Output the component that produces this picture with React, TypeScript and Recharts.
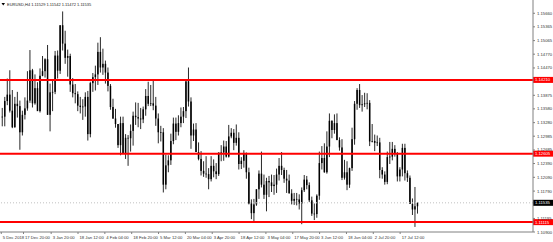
import { ComposedChart, Bar, XAxis, YAxis, ReferenceLine } from "recharts";

// EURUSD, one candle per trading day (broker time)
const days = [
  "2018-12-05", "2018-12-06", "2018-12-07", "2018-12-10", "2018-12-11", "2018-12-12", "2018-12-13", "2018-12-14",
  "2018-12-17", "2018-12-18", "2018-12-19", "2018-12-20", "2018-12-21", "2018-12-24", "2018-12-26", "2018-12-27",
  "2018-12-28", "2018-12-31", "2019-01-02", "2019-01-03", "2019-01-04", "2019-01-07", "2019-01-08", "2019-01-09",
  "2019-01-10", "2019-01-11", "2019-01-14", "2019-01-15", "2019-01-16", "2019-01-17", "2019-01-18", "2019-01-21",
  "2019-01-22", "2019-01-23", "2019-01-24", "2019-01-25", "2019-01-28", "2019-01-29", "2019-01-30", "2019-01-31",
  "2019-02-01", "2019-02-04", "2019-02-05", "2019-02-06", "2019-02-07", "2019-02-08", "2019-02-11", "2019-02-12",
  "2019-02-13", "2019-02-14", "2019-02-15", "2019-02-18", "2019-02-19", "2019-02-20", "2019-02-21", "2019-02-22",
  "2019-02-25", "2019-02-26", "2019-02-27", "2019-02-28", "2019-03-01", "2019-03-04", "2019-03-05", "2019-03-06",
  "2019-03-07", "2019-03-08", "2019-03-11", "2019-03-12", "2019-03-13", "2019-03-14", "2019-03-15", "2019-03-18",
  "2019-03-19", "2019-03-20", "2019-03-21", "2019-03-22", "2019-03-25", "2019-03-26", "2019-03-27", "2019-03-28",
  "2019-03-29", "2019-04-01", "2019-04-02", "2019-04-03", "2019-04-04", "2019-04-05", "2019-04-08", "2019-04-09",
  "2019-04-10", "2019-04-11", "2019-04-12", "2019-04-15", "2019-04-16", "2019-04-17", "2019-04-18", "2019-04-19",
  "2019-04-22", "2019-04-23", "2019-04-24", "2019-04-25", "2019-04-26", "2019-04-29", "2019-04-30", "2019-05-01",
  "2019-05-02", "2019-05-03", "2019-05-06", "2019-05-07", "2019-05-08", "2019-05-09", "2019-05-10", "2019-05-13",
  "2019-05-14", "2019-05-15", "2019-05-16", "2019-05-17", "2019-05-20", "2019-05-21", "2019-05-22", "2019-05-23",
  "2019-05-24", "2019-05-27", "2019-05-28", "2019-05-29", "2019-05-30", "2019-05-31", "2019-06-03", "2019-06-04",
  "2019-06-05", "2019-06-06", "2019-06-07", "2019-06-10", "2019-06-11", "2019-06-12", "2019-06-13", "2019-06-14",
  "2019-06-17", "2019-06-18", "2019-06-19", "2019-06-20", "2019-06-21", "2019-06-24", "2019-06-25", "2019-06-26",
  "2019-06-27", "2019-06-28", "2019-07-01", "2019-07-02", "2019-07-03", "2019-07-04", "2019-07-05", "2019-07-08",
  "2019-07-09", "2019-07-10", "2019-07-11", "2019-07-12", "2019-07-15", "2019-07-16", "2019-07-17", "2019-07-18",
  "2019-07-19", "2019-07-22", "2019-07-23", "2019-07-24", "2019-07-25", "2019-07-26",
];

const opens = [
  1.1341, 1.1341, 1.1375, 1.1389, 1.1354, 1.1318, 1.1369, 1.1364, 1.1307, 1.1345, 1.1359, 1.1376, 1.1442, 1.137, 1.1403, 1.1353,
  1.143, 1.144, 1.1466, 1.1345, 1.1394, 1.1395, 1.1474, 1.1441, 1.154, 1.15, 1.1469, 1.1473, 1.1411, 1.1392, 1.139, 1.1365,
  1.1362, 1.1363, 1.1384, 1.1303, 1.1414, 1.1427, 1.1433, 1.1482, 1.1448, 1.1456, 1.1437, 1.1408, 1.1362, 1.1337, 1.1325, 1.1279,
  1.1327, 1.1261, 1.1295, 1.1294, 1.131, 1.1343, 1.134, 1.1337, 1.1335, 1.1357, 1.1386, 1.1369, 1.137, 1.1365, 1.1337, 1.1307,
  1.1307, 1.1193, 1.1235, 1.1246, 1.1288, 1.1326, 1.1308, 1.1327, 1.1341, 1.1353, 1.1418, 1.1374, 1.13, 1.1313, 1.1264, 1.1249,
  1.1223, 1.1217, 1.1216, 1.1205, 1.1234, 1.1222, 1.1216, 1.1263, 1.1263, 1.1276, 1.1254, 1.1298, 1.1306, 1.1284, 1.1295, 1.1238,
  1.1245, 1.126, 1.122, 1.1152, 1.1131, 1.115, 1.1183, 1.1217, 1.1193, 1.1171, 1.1201, 1.1198, 1.119, 1.1193, 1.1215, 1.1234,
  1.1225, 1.1206, 1.1202, 1.1174, 1.1158, 1.1162, 1.1161, 1.1152, 1.1181, 1.1204, 1.1192, 1.1159, 1.113, 1.1129, 1.1169, 1.124,
  1.1251, 1.122, 1.1276, 1.1332, 1.1312, 1.1327, 1.129, 1.1274, 1.1208, 1.122, 1.1193, 1.1229, 1.1292, 1.1369, 1.1399, 1.1366,
  1.1368, 1.137, 1.1371, 1.1287, 1.1288, 1.1284, 1.1285, 1.1225, 1.1215, 1.1199, 1.1253, 1.1254, 1.1271, 1.126, 1.1211, 1.1226,
  1.1273, 1.1218, 1.1208, 1.1151, 1.1139, 1.1146,
];

const highs = [
  1.136, 1.1384, 1.1424, 1.1442, 1.1399, 1.1384, 1.1395, 1.1376, 1.1354, 1.1383, 1.144, 1.1486, 1.1445, 1.1433, 1.1416, 1.1446,
  1.1473, 1.1468, 1.1497, 1.1413, 1.1419, 1.1484, 1.1485, 1.154, 1.157, 1.1528, 1.1487, 1.1478, 1.1425, 1.1412, 1.1396, 1.1384,
  1.1379, 1.1394, 1.1397, 1.1417, 1.1436, 1.1452, 1.1502, 1.1514, 1.1489, 1.1463, 1.1448, 1.1412, 1.138, 1.1358, 1.1325, 1.1341,
  1.1341, 1.1303, 1.1301, 1.1324, 1.1352, 1.1372, 1.1371, 1.136, 1.1363, 1.1401, 1.1417, 1.141, 1.142, 1.1384, 1.1348, 1.1321,
  1.1316, 1.1258, 1.1257, 1.1304, 1.1339, 1.1339, 1.1344, 1.1361, 1.1362, 1.1418, 1.1448, 1.1383, 1.1326, 1.1327, 1.1285, 1.1266,
  1.1244, 1.1255, 1.1229, 1.1255, 1.1248, 1.124, 1.1263, 1.1279, 1.1289, 1.1288, 1.1323, 1.1316, 1.1314, 1.1324, 1.1307, 1.1253,
  1.1268, 1.1263, 1.123, 1.1161, 1.1162, 1.1183, 1.1224, 1.1265, 1.1215, 1.1208, 1.1212, 1.1215, 1.1214, 1.1228, 1.1251, 1.1264,
  1.123, 1.1225, 1.1215, 1.1183, 1.1175, 1.1175, 1.1172, 1.1187, 1.1214, 1.1212, 1.1198, 1.1167, 1.1152, 1.1172, 1.1265, 1.1277,
  1.1283, 1.1309, 1.1348, 1.1333, 1.1346, 1.1348, 1.1296, 1.1292, 1.1247, 1.1244, 1.123, 1.1317, 1.1375, 1.1403, 1.1412, 1.1388,
  1.1393, 1.1392, 1.1377, 1.1325, 1.1302, 1.13, 1.1295, 1.1231, 1.1222, 1.1265, 1.1286, 1.1286, 1.1279, 1.1264, 1.1231, 1.1282,
  1.1282, 1.1224, 1.1213, 1.1163, 1.1188, 1.1154,
];

const lows = [
  1.132, 1.132, 1.1366, 1.135, 1.1316, 1.1317, 1.1339, 1.1269, 1.13, 1.1335, 1.1354, 1.1371, 1.1361, 1.1367, 1.1357, 1.135,
  1.1429, 1.1426, 1.1345, 1.1309, 1.1353, 1.139, 1.1424, 1.1434, 1.1485, 1.1456, 1.1428, 1.1395, 1.1383, 1.137, 1.1353, 1.1348,
  1.1334, 1.1341, 1.1289, 1.1296, 1.1395, 1.1398, 1.141, 1.1437, 1.1432, 1.1413, 1.1396, 1.1356, 1.1336, 1.1317, 1.1273, 1.1257,
  1.126, 1.1249, 1.1234, 1.1265, 1.1278, 1.1323, 1.1318, 1.1314, 1.1327, 1.1343, 1.1364, 1.1364, 1.1355, 1.1321, 1.1283, 1.1287,
  1.1176, 1.1183, 1.122, 1.1236, 1.1281, 1.129, 1.13, 1.1318, 1.1327, 1.1338, 1.1363, 1.1271, 1.1288, 1.1264, 1.1246, 1.1213,
  1.121, 1.1208, 1.1183, 1.12, 1.1209, 1.1205, 1.1212, 1.1244, 1.1245, 1.1252, 1.1252, 1.1294, 1.1268, 1.1278, 1.1226, 1.1227,
  1.123, 1.1206, 1.115, 1.1118, 1.1111, 1.1147, 1.1162, 1.1187, 1.1162, 1.1135, 1.1166, 1.1177, 1.1171, 1.1175, 1.1202, 1.1214,
  1.1197, 1.1175, 1.1174, 1.115, 1.1149, 1.1148, 1.1139, 1.1107, 1.1177, 1.1183, 1.1155, 1.1125, 1.1116, 1.1121, 1.116, 1.1226,
  1.1219, 1.1217, 1.1253, 1.1294, 1.1304, 1.129, 1.1267, 1.1203, 1.1204, 1.1181, 1.1186, 1.1223, 1.128, 1.1356, 1.136, 1.1352,
  1.1362, 1.1357, 1.1277, 1.1285, 1.1266, 1.1277, 1.1207, 1.1206, 1.1193, 1.1194, 1.1238, 1.1246, 1.1254, 1.12, 1.12, 1.1211,
  1.1202, 1.1199, 1.1151, 1.1127, 1.1101, 1.113,
];

const closes = [
  1.1341, 1.1375, 1.1389, 1.1354, 1.1318, 1.1369, 1.1364, 1.1307, 1.1345, 1.1359, 1.1376, 1.1442, 1.137, 1.1403, 1.1353, 1.143,
  1.144, 1.1466, 1.1345, 1.1394, 1.1395, 1.1474, 1.1441, 1.154, 1.15, 1.1469, 1.1473, 1.1411, 1.1392, 1.139, 1.1365, 1.1362,
  1.1363, 1.1384, 1.1303, 1.1414, 1.1427, 1.1433, 1.1482, 1.1448, 1.1456, 1.1437, 1.1408, 1.1362, 1.1337, 1.1325, 1.1279, 1.1327,
  1.1261, 1.1295, 1.1294, 1.131, 1.1343, 1.134, 1.1337, 1.1335, 1.1357, 1.1386, 1.1369, 1.137, 1.1365, 1.1337, 1.1307, 1.1307,
  1.1193, 1.1235, 1.1246, 1.1288, 1.1326, 1.1308, 1.1327, 1.1341, 1.1353, 1.1418, 1.1374, 1.13, 1.1313, 1.1264, 1.1249, 1.1223,
  1.1217, 1.1216, 1.1205, 1.1234, 1.1222, 1.1216, 1.1263, 1.1263, 1.1276, 1.1254, 1.1298, 1.1306, 1.1284, 1.1295, 1.1238, 1.1245,
  1.126, 1.122, 1.1152, 1.1131, 1.115, 1.1183, 1.1217, 1.1193, 1.1171, 1.1201, 1.1198, 1.119, 1.1193, 1.1215, 1.1234, 1.1225,
  1.1206, 1.1202, 1.1174, 1.1158, 1.1162, 1.1161, 1.1152, 1.1181, 1.1204, 1.1192, 1.1159, 1.113, 1.1129, 1.1169, 1.124, 1.1251,
  1.122, 1.1276, 1.1332, 1.1312, 1.1327, 1.129, 1.1274, 1.1208, 1.122, 1.1193, 1.1229, 1.1292, 1.1369, 1.1399, 1.1366, 1.1368,
  1.137, 1.1371, 1.1287, 1.1288, 1.1284, 1.1285, 1.1225, 1.1215, 1.1199, 1.1253, 1.1254, 1.1271, 1.126, 1.1211, 1.1226, 1.1273,
  1.1218, 1.1208, 1.1151, 1.1139, 1.1146, 1.11535,
];

const timeLabels = [
  "5 Dec 2018", "17 Dec 20:00", "3 Jan 20:00", "18 Jan 12:00", "4 Feb 04:00", "18 Feb 20:00", "5 Mar 12:00", "20 Mar 04:00",
  "3 Apr 20:00", "18 Apr 12:00", "3 May 04:00", "17 May 20:00", "3 Jun 12:00", "18 Jun 04:00", "2 Jul 20:00", "17 Jul 12:00",
];
const timeLabelDays = [
  "2018-12-05", "2018-12-17", "2019-01-03", "2019-01-18", "2019-02-04", "2019-02-18", "2019-03-05", "2019-03-20",
  "2019-04-03", "2019-04-18", "2019-05-03", "2019-05-17", "2019-06-03", "2019-06-18", "2019-07-02", "2019-07-17",
];
const timeLabelHours = [0, 20, 20, 12, 4, 20, 12, 4, 20, 12, 4, 20, 12, 4, 20, 12];

// scale labels left uncovered by the level boxes
const priceTicks = [
  1.1566, 1.15365, 1.15065, 1.1477, 1.1447, 1.13875, 1.1358, 1.1328, 1.12985, 1.12685, 1.1239, 1.1209, 1.1179,
  1.11195, 1.109,
];

const levels = [1.1421, 1.12605, 1.11115];
const lastPrice = 1.11535;
const header = "EURUSD,H4 1.11529 1.11542 1.11472 1.11535";

const FONT = "'Liberation Sans', Arial, sans-serif";

const candles = days.map((d, i) => ({
  day: d,
  t: i + 0.5,
  open: opens[i],
  high: highs[i],
  low: lows[i],
  close: closes[i],
}));

const tickValues = timeLabelDays.map((d, i) => days.indexOf(d) + timeLabelHours[i] / 24);

const Candle = (props: any) => {
  const { x, y, width, height, payload } = props;
  if (x == null || y == null) return null;
  const top = Math.min(y, y + height);
  const h = Math.abs(height);
  const span = payload.high - payload.low || 1e-9;
  const yOf = (v: number) => top + ((payload.high - v) / span) * h;
  const cx = x + width / 2;
  const b1 = yOf(Math.max(payload.open, payload.close));
  const b2 = yOf(Math.min(payload.open, payload.close));
  return (
    <g>
      <line x1={cx} x2={cx} y1={top} y2={top + h} stroke="#111" strokeWidth={0.9} />
      <rect x={cx - 0.75} y={b1} width={1.5} height={Math.max(b2 - b1, 0.7)} fill="#000" />
    </g>
  );
};

const TimeTick = (props: any) => {
  const { x, y, payload } = props;
  const idx = tickValues.indexOf(payload.value);
  return (
    <text x={x + 1.5} y={y + 3} fontSize={4.2} fontFamily={FONT} fill="#333" textAnchor="start">
      {timeLabels[idx]}
    </text>
  );
};

const PriceTick = (props: any) => {
  const { x, y, payload } = props;
  return (
    <text x={x} y={y} fontSize={4.2} fontFamily={FONT} fill="#333" textAnchor="start" dominantBaseline="central">
      {payload.value.toFixed(5)}
    </text>
  );
};

const boxLabel = (value: number, bg: string) => (props: any) => {
  const { viewBox } = props;
  const bx = viewBox.x + viewBox.width;
  return (
    <g>
      <rect x={bx} y={viewBox.y - 3} width={20} height={6} fill={bg} />
      <text x={bx + 2} y={viewBox.y} fontSize={4.2} fontFamily={FONT} fill="#fff" dominantBaseline="central">
        {value.toFixed(5)}
      </text>
    </g>
  );
};

export default function App() {
  return (
    <div style={{ position: "relative", width: 553, height: 242, background: "#fff" }}>
      <style>{"body{margin:0}"}</style>
      <ComposedChart width={553} height={242} data={candles} margin={{ top: 0, right: 0, bottom: 0, left: 0 }}>
        <XAxis
          type="number"
          dataKey="t"
          domain={[-0.5, 211.3]}
          ticks={tickValues}
          interval={0}
          height={10}
          tickSize={2}
          axisLine={{ stroke: "#808080" }}
          tickLine={{ stroke: "#808080" }}
          tick={<TimeTick />}
          allowDataOverflow
        />
        <YAxis
          orientation="right"
          type="number"
          domain={[1.109, 1.15949]}
          ticks={priceTicks}
          interval={0}
          width={20}
          tickSize={2}
          axisLine={{ stroke: "#808080" }}
          tickLine={{ stroke: "#808080" }}
          tick={<PriceTick />}
          allowDataOverflow
        />
        <Bar
          dataKey={(d: any) => [d.low, d.high]}
          barSize={2}
          shape={<Candle />}
          isAnimationActive={false}
        />
        <ReferenceLine
          y={lastPrice}
          stroke="#c0c0c0"
          strokeDasharray="1 2"
          label={boxLabel(lastPrice, "#000")}
        />
        {levels.map((v) => (
          <ReferenceLine key={v} y={v} stroke="#ff0000" strokeWidth={2} label={boxLabel(v, "#ff0000")} />
        ))}
      </ComposedChart>
      <svg width={553} height={242} style={{ position: "absolute", left: 0, top: 0, pointerEvents: "none" }}>
        <path d="M1.5 3 L5 3 L3.25 5.5 Z" fill="#000" />
        <text x={7} y={4.5} fontSize={4} fontFamily={FONT} fill="#222" dominantBaseline="central">
          {header}
        </text>
      </svg>
    </div>
  );
}
